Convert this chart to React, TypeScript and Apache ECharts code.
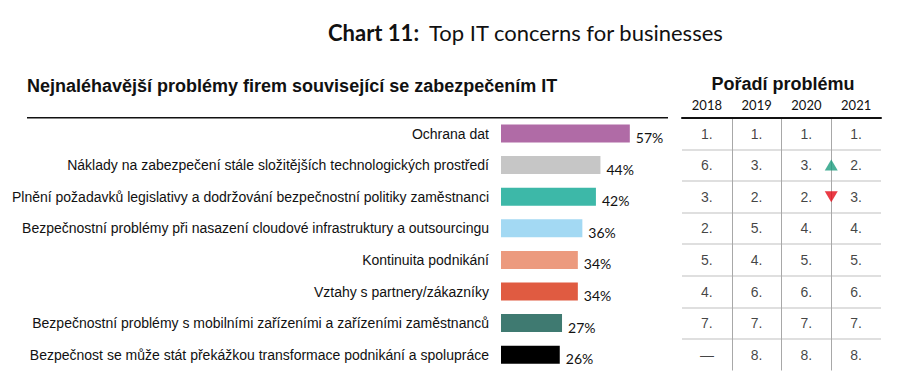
import React, { useEffect, useRef } from "react";
import * as echarts from "echarts";

const categories = [
  "Ochrana dat",
  "Náklady na zabezpečení stále složitějších technologických prostředí",
  "Plnění požadavků legislativy a dodržování bezpečnostní politiky zaměstnanci",
  "Bezpečnostní problémy při nasazení cloudové infrastruktury a outsourcingu",
  "Kontinuita podnikání",
  "Vztahy s partnery/zákazníky",
  "Bezpečnostní problémy s mobilními zařízeními a zařízeními zaměstnanců",
  "Bezpečnost se může stát překážkou transformace podnikání a spolupráce",
];
const shares = [57, 44, 42, 36, 34, 34, 27, 26];
const barColors = ["#b06ba6", "#c6c6c6", "#3db8a8", "#a3d9f3", "#ec9a7e", "#e05b41", "#3f7a71", "#000000"];

const years = ["2018", "2019", "2020", "2021"];
const rank2018 = [1, 6, 3, 2, 5, 4, 7, null];
const rank2019 = [1, 3, 2, 5, 4, 6, 7, 8];
const rank2020 = [1, 3, 2, 4, 5, 6, 7, 8];
const rank2021 = [1, 2, 3, 4, 5, 6, 7, 8];
const trend2021 = [null, "up", "down", null, null, null, null, null];

const titleBold = "Chart 11:";
const titleRest = "Top IT concerns for businesses";
const leftHeading = "Nejnaléhavější problémy firem související se zabezpečením IT";
const rightHeading = "Pořadí problému";

export default function App() {
  const ref = useRef<HTMLDivElement>(null);
  useEffect(() => {
    if (!ref.current) return;
    const chart = echarts.init(ref.current, undefined, { renderer: "svg" });
    const ranks = [rank2018, rank2019, rank2020, rank2021];
    const cellData: any[] = [];
    ranks.forEach((col, j) => {
      col.forEach((r, i) => {
        cellData.push({ value: [years[j], categories[i]], rank: r });
      });
    });
    const upData: any[] = [];
    const downData: any[] = [];
    trend2021.forEach((t, i) => {
      if (t === "up") upData.push([3, categories[i]]);
      if (t === "down") downData.push([3, categories[i]]);
    });
    const top = 117.7;
    const height = 252.8;
    const vColors = ["rgba(0,0,0,0)", "#a8a8a8", "#a8a8a8", "#a8a8a8", "rgba(0,0,0,0)"];
    const hColors = ["rgba(0,0,0,0)"].concat(Array(7).fill("#d4d4d4"), ["rgba(0,0,0,0)"]);
    chart.setOption({
      animation: false,
      backgroundColor: "#ffffff",
      title: [
        {
          text: `{b|${titleBold}}  {n|${titleRest}}`,
          left: 328,
          top: 21,
          padding: 0,
          textStyle: {
            rich: {
              b: { fontFamily: "Lato", fontWeight: "bold", fontSize: 22, color: "#111" },
              n: { fontFamily: "Lato", fontWeight: "normal", fontSize: 22, color: "#111" },
            },
          },
        },
        {
          text: leftHeading,
          left: 27,
          top: 77,
          padding: 0,
          textStyle: { fontFamily: "Liberation Sans", fontWeight: "bold", fontSize: 18, color: "#111" },
        },
        {
          text: rightHeading,
          left: 783,
          textAlign: "center",
          top: 75,
          padding: 0,
          textStyle: { fontFamily: "Liberation Sans", fontWeight: "bold", fontSize: 18, color: "#111" },
        },
      ],
      graphic: [
        {
          type: "line",
          shape: { x1: 27, y1: top, x2: 668, y2: top },
          style: { stroke: "#111", lineWidth: 1.5 },
        },
      ],
      grid: [
        { left: 501, width: 226, top, height },
        { left: 682, width: 199, top, height },
      ],
      xAxis: [
        { type: "value", gridIndex: 0, min: 0, max: 100, show: false },
        {
          type: "category",
          gridIndex: 1,
          data: years,
          position: "top",
          axisLine: { show: true, lineStyle: { color: "#111", width: 2 } },
          axisTick: { show: false },
          axisLabel: { margin: 6, fontFamily: "Lato", fontSize: 13, color: "#111" },
          splitLine: { show: true, interval: 0, lineStyle: { color: vColors, width: 1 } },
        },
        { type: "value", gridIndex: 1, min: 0, max: 4, show: false },
      ],
      yAxis: [
        {
          type: "category",
          gridIndex: 0,
          data: categories,
          inverse: true,
          axisLine: { show: false },
          axisTick: { show: false },
          axisLabel: { margin: 12, fontFamily: "Liberation Sans", fontSize: 14, color: "#111", lineHeight: 14, padding: [0, 0, 4, 0] },
        },
        {
          type: "category",
          gridIndex: 1,
          data: categories,
          inverse: true,
          axisLine: { show: false },
          axisTick: { show: false },
          axisLabel: { show: false },
          splitLine: { show: true, interval: 0, lineStyle: { color: hColors, width: 1.5 } },
        },
      ],
      series: [
        {
          type: "bar",
          xAxisIndex: 0,
          yAxisIndex: 0,
          barWidth: 18,
          data: shares.map((v, i) => ({ value: v, itemStyle: { color: barColors[i] } })),
          label: {
            show: true,
            position: "right",
            distance: 6,
            offset: [0, 4],
            formatter: "{c}%",
            fontFamily: "Lato",
            fontSize: 14,
            color: "#111",
          },
        },
        {
          type: "scatter",
          xAxisIndex: 1,
          yAxisIndex: 1,
          symbolSize: 0,
          data: cellData,
          label: {
            show: true,
            position: "inside",
            formatter: (p: any) => (p.data.rank == null ? "—" : p.data.rank + "."),
            fontFamily: "Liberation Sans",
            fontSize: 14,
            color: "#111",
          },
        },
        {
          type: "scatter",
          xAxisIndex: 2,
          yAxisIndex: 1,
          symbol: "triangle",
          symbolSize: [13, 11],
          itemStyle: { color: "#1c9c7e" },
          data: upData,
        },
        {
          type: "scatter",
          xAxisIndex: 2,
          yAxisIndex: 1,
          symbol: "triangle",
          symbolRotate: 180,
          symbolSize: [13, 11],
          itemStyle: { color: "#e30a17" },
          data: downData,
        },
      ],
    });
    return () => chart.dispose();
  }, []);
  return (
    <div
      ref={ref}
      style={{ position: "fixed", left: 0, top: 0, width: 912, height: 384 }}
    />
  );
}
